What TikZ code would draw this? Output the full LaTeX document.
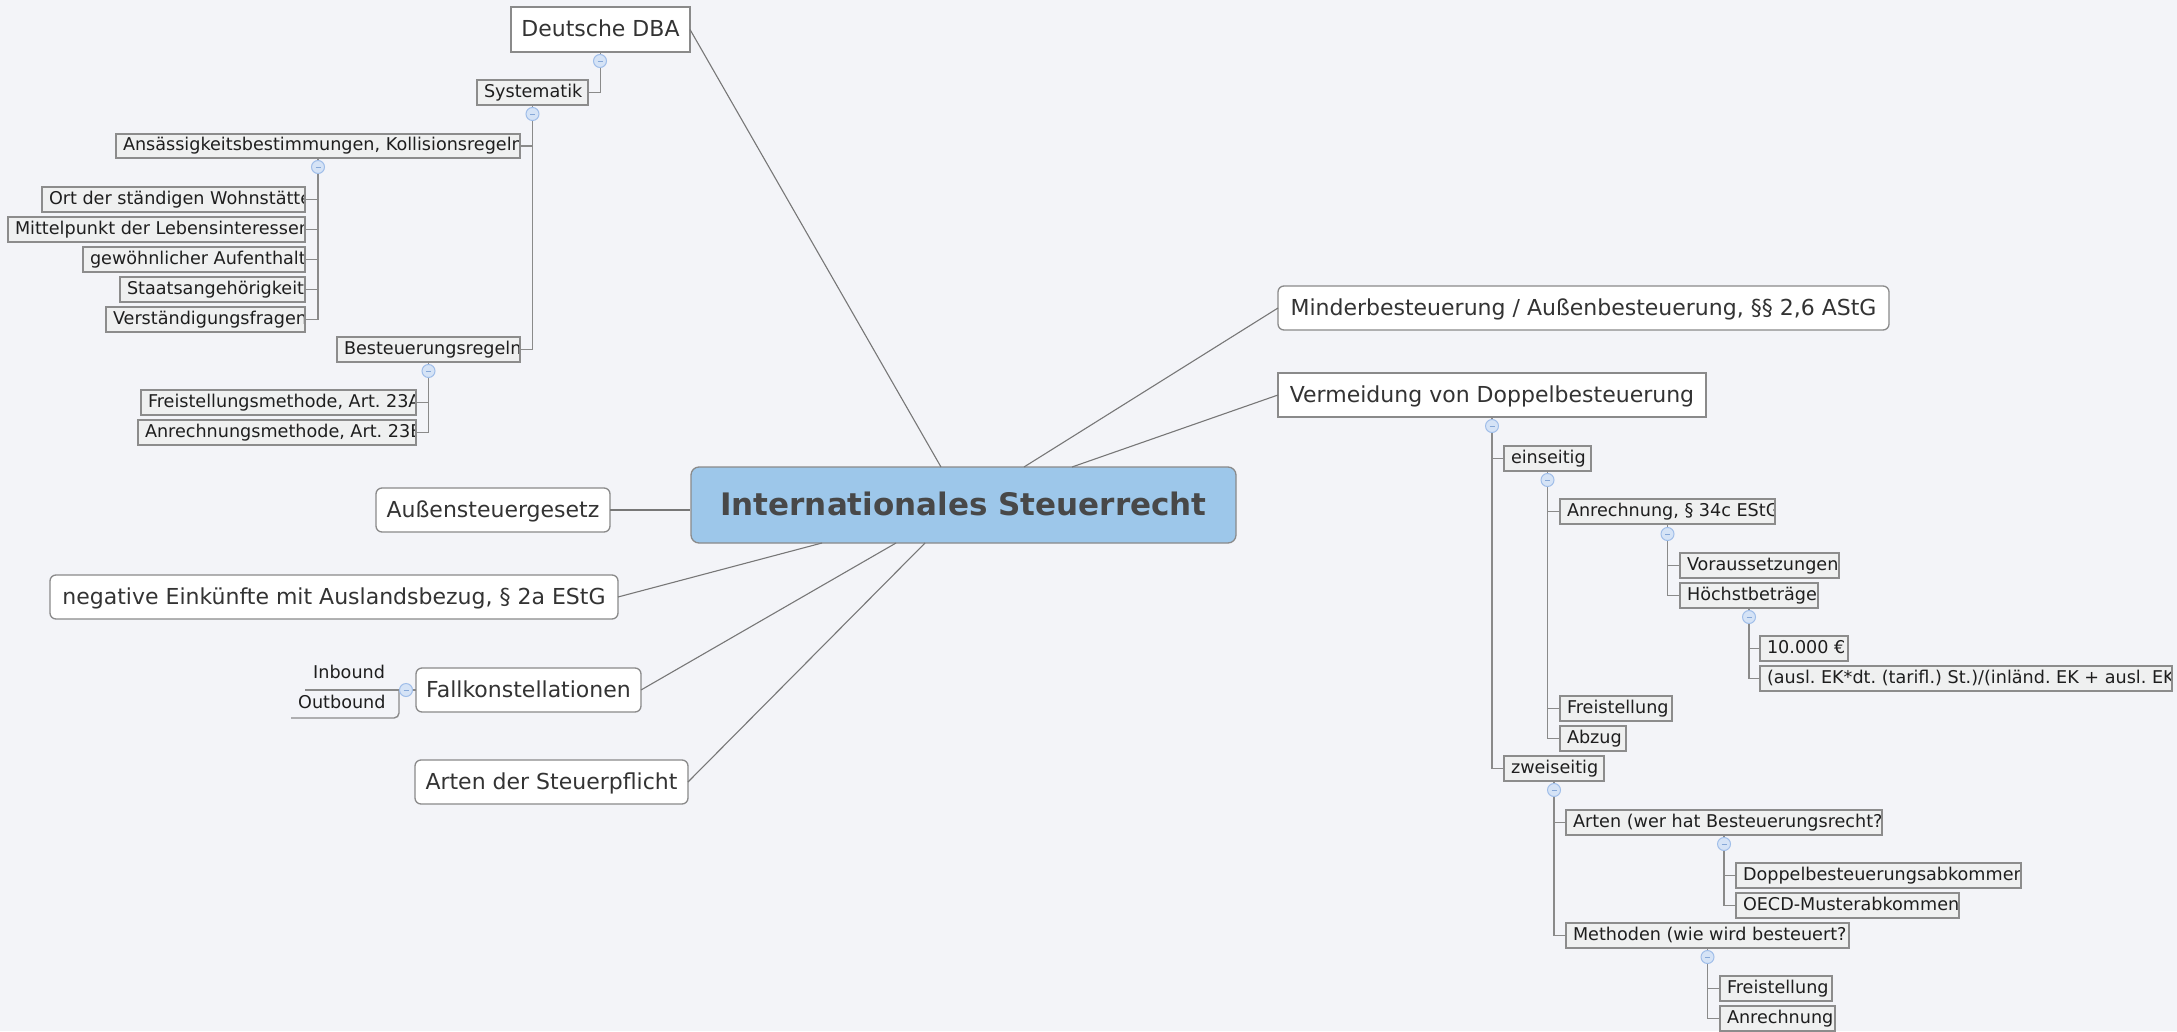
\documentclass[tikz,border=0pt]{standalone}
\usepackage{fontspec}
\setmainfont{DejaVu Sans}
\frenchspacing
\definecolor{bg}{HTML}{F3F4F8}
\definecolor{leaffill}{HTML}{EFF0F0}
\definecolor{leafline}{HTML}{8C8C8C}
\definecolor{treeline}{HTML}{8A8A8A}
\definecolor{connline}{HTML}{777777}
\definecolor{topline}{HTML}{8A8A8A}
\definecolor{foldfill}{HTML}{D5E3F6}
\definecolor{foldline}{HTML}{A0BEE9}
\definecolor{foldminus}{HTML}{86A8D8}
\definecolor{rootfill}{HTML}{9DC7EA}
\definecolor{roottext}{HTML}{484848}
\definecolor{txtdark}{HTML}{1E1E1E}
\definecolor{txtmid}{HTML}{333333}
\newcommand\leaffont{\fontsize{17.6}{21}\selectfont}
\tikzset{
  leafbox/.style={draw=leafline, fill=leaffill, line width=1.4pt, inner sep=0pt, outer sep=0pt},
  topbox/.style={draw=topline, fill=white, line width=1.3pt, inner sep=0pt, outer sep=0pt,
    font=\fontsize{22}{26}\selectfont, text=txtmid, text height=17pt, text depth=2.6pt},
  roundbox/.style={topbox, rounded corners=6pt},
  conn/.style={draw=connline, line width=1.1pt},
  tree/.style={draw=treeline, line width=1.4pt},
  fold/.style={circle, draw=foldline, fill=foldfill, line width=1pt, minimum size=13pt, inner sep=0pt,
    path picture={\draw[foldminus, line width=1pt] ([xshift=-2.5pt]path picture bounding box.center) -- ([xshift=2.5pt]path picture bounding box.center);}},
  plain/.style={font=\leaffont, text=txtdark, inner sep=0pt, minimum width=0pt, minimum height=0pt,
    draw=none, fill=none, anchor=base west},
}
% name, x1, y1, x2, y2, text
\newcommand\leaf[6]{%
  \node[leafbox, minimum width={(#4-#2)*1pt}, minimum height={(#5-#3)*1pt},
    path picture={\node[plain] at ([xshift=7pt,yshift=-4.5pt]path picture bounding box.west) {#6};}]
    (#1) at ({(#2+#4)/2},{(#3+#5)/2}) {};}
% style, name, x1, y1, x2, y2, text
\newcommand\topnode[7]{%
  \node[#1, minimum width={(#5-#3)*1pt}, minimum height={(#6-#4)*1pt}]
    (#2) at ({(#3+#5)/2},{(#4+#6)/2}) {#7};}
% parent, last child, other children (left side / right side)
\newcommand\branchL[3]{%
  \draw[tree] (#1.south) |- (#2.east);
  \foreach \c in {#3} \draw[tree] (#1.south |- \c.east) -- (\c.east);}
\newcommand\branchR[3]{%
  \draw[tree] (#1.south) |- (#2.west);
  \foreach \c in {#3} \draw[tree] (#1.south |- \c.west) -- (\c.west);}
\begin{document}
\begin{tikzpicture}[x=1pt,y=-1pt]
\fill[bg] (0,0) rectangle (2177,1031);
\useasboundingbox (0,0) rectangle (2177,1031);

% root
\node[draw=topline, fill=rootfill, line width=1.3pt, rounded corners=8pt, inner sep=0pt,
  minimum width=545pt, minimum height=76pt, text height=23pt, text depth=3pt,
  font=\fontsize{31}{36}\selectfont\bfseries, text=roottext] (root) at (963.5,505) {Internationales Steuerrecht};

% first level
\topnode{topbox}{dba}{511}{7}{690}{52}{Deutsche DBA}
\topnode{roundbox}{mind}{1278}{286}{1889}{330}{Minderbesteuerung / Außenbesteuerung, §§ 2,6 AStG}
\topnode{topbox}{verm}{1278}{373}{1706}{417}{Vermeidung von Doppelbesteuerung}
\topnode{roundbox}{aussen}{376}{488}{610}{532}{Außensteuergesetz}
\topnode{roundbox}{neg}{50}{575}{618}{619}{negative Einkünfte mit Auslandsbezug, § 2a EStG}
\topnode{roundbox}{fall}{416}{668}{641}{712}{Fallkonstellationen}
\topnode{roundbox}{arten}{415}{760}{688}{804}{Arten der Steuerpflicht}

% root connectors
\coordinate (rt1) at (941,467);
\coordinate (rt2) at (1024,467);
\coordinate (rt3) at (1072,467);
\coordinate (rb1) at (822,543);
\coordinate (rb2) at (896,543);
\coordinate (rb3) at (925,543);
\draw[conn] (dba.east) -- (rt1);
\draw[conn] (mind.west) -- (rt2);
\draw[conn] (verm.west) -- (rt3);
\draw[conn] (aussen.east) -- (aussen.east -| root.west);
\draw[conn] (neg.east) -- (rb1);
\draw[conn] (fall.east) -- (rb2);
\draw[conn] (arten.east) -- (rb3);

% DBA subtree
\leaf{syst}{477}{80}{588}{105}{Systematik}
\leaf{ans}{116}{134}{520}{158}{Ansässigkeitsbestimmungen, Kollisionsregeln}
\leaf{ort}{42}{187}{305}{212}{Ort der ständigen Wohnstätte}
\leaf{mitt}{8}{217}{305}{242}{Mittelpunkt der Lebensinteressen}
\leaf{gew}{83}{247}{305}{272}{gewöhnlicher Aufenthalt}
\leaf{staat}{120}{277}{305}{302}{Staatsangehörigkeit}
\leaf{verst}{106}{307}{305}{332}{Verständigungsfragen}
\leaf{bes}{337}{337}{520}{362}{Besteuerungsregeln}
\leaf{frm}{141}{390}{416}{415}{Freistellungsmethode, Art. 23A}
\leaf{anm}{138}{420}{416}{445}{Anrechnungsmethode, Art. 23B}

\draw[tree] (dba.south) |- (syst.east);
\branchL{syst}{bes}{ans}
\branchL{ans}{verst}{ort,mitt,gew,staat}
\branchL{bes}{anm}{frm}

\node[fold] (fdba) at (600,61) {};
\node[fold] (fsyst) at (532.5,114) {};
\node[fold] (fans) at (318,167) {};
\node[fold] (fbes) at (428.5,371) {};

% Vermeidung subtree
\leaf{ein}{1504}{446}{1591}{471}{einseitig}
\leaf{anr34}{1560}{499}{1775}{524}{Anrechnung, § 34c EStG}
\leaf{vor}{1680}{553}{1839}{578}{Voraussetzungen}
\leaf{hoe}{1680}{583}{1818}{608}{Höchstbeträge}
\leaf{ten}{1760}{636}{1848}{661}{10.000 €}
\leaf{ausl}{1760}{666}{2172}{691}{(ausl. EK*dt. (tarifl.) St.)/(inländ. EK + ausl. EK)}
\leaf{frei1}{1560}{696}{1672}{721}{Freistellung}
\leaf{abz}{1560}{726}{1626}{751}{Abzug}
\leaf{zwei}{1504}{756}{1604}{781}{zweiseitig}
\leaf{artq}{1566}{810}{1882}{835}{Arten (wer hat Besteuerungsrecht?)}
\leaf{dbaab}{1736}{863}{2021}{888}{Doppelbesteuerungsabkommen}
\leaf{oecd}{1736}{893}{1959}{918}{OECD-Musterabkommen}
\leaf{meth}{1566}{923}{1849}{948}{Methoden (wie wird besteuert?)}
\leaf{frei2}{1720}{976}{1832}{1001}{Freistellung}
\leaf{anr2}{1720}{1006}{1835}{1031}{Anrechnung}

\branchR{verm}{zwei}{ein}
\branchR{ein}{abz}{anr34,frei1}
\branchR{anr34}{hoe}{vor}
\branchR{hoe}{ausl}{ten}
\branchR{zwei}{meth}{artq}
\branchR{artq}{oecd}{dbaab}
\branchR{meth}{anr2}{frei2}

\node[fold] (fverm) at (1492,426) {};
\node[fold] (fein) at (1547.5,480) {};
\node[fold] (fanr) at (1667.5,534) {};
\node[fold] (fhoe) at (1749,617) {};
\node[fold] (fzwei) at (1554,790) {};
\node[fold] (fartq) at (1724,844) {};
\node[fold] (fmeth) at (1707.5,957) {};

% Fallkonstellationen
\coordinate (inbend) at (305,690);
\coordinate (outbend) at (291,718);
\coordinate (fj) at (399,690);
\draw[tree] (fall.west) -- (inbend);
\draw[tree, rounded corners=5pt] (fj) |- (outbend);
\node[plain] (inb) at (313,678) {Inbound};
\node[plain] (outb) at (298,708) {Outbound};
\node[fold] (ffall) at (406,690) {};
\end{tikzpicture}
\end{document}
